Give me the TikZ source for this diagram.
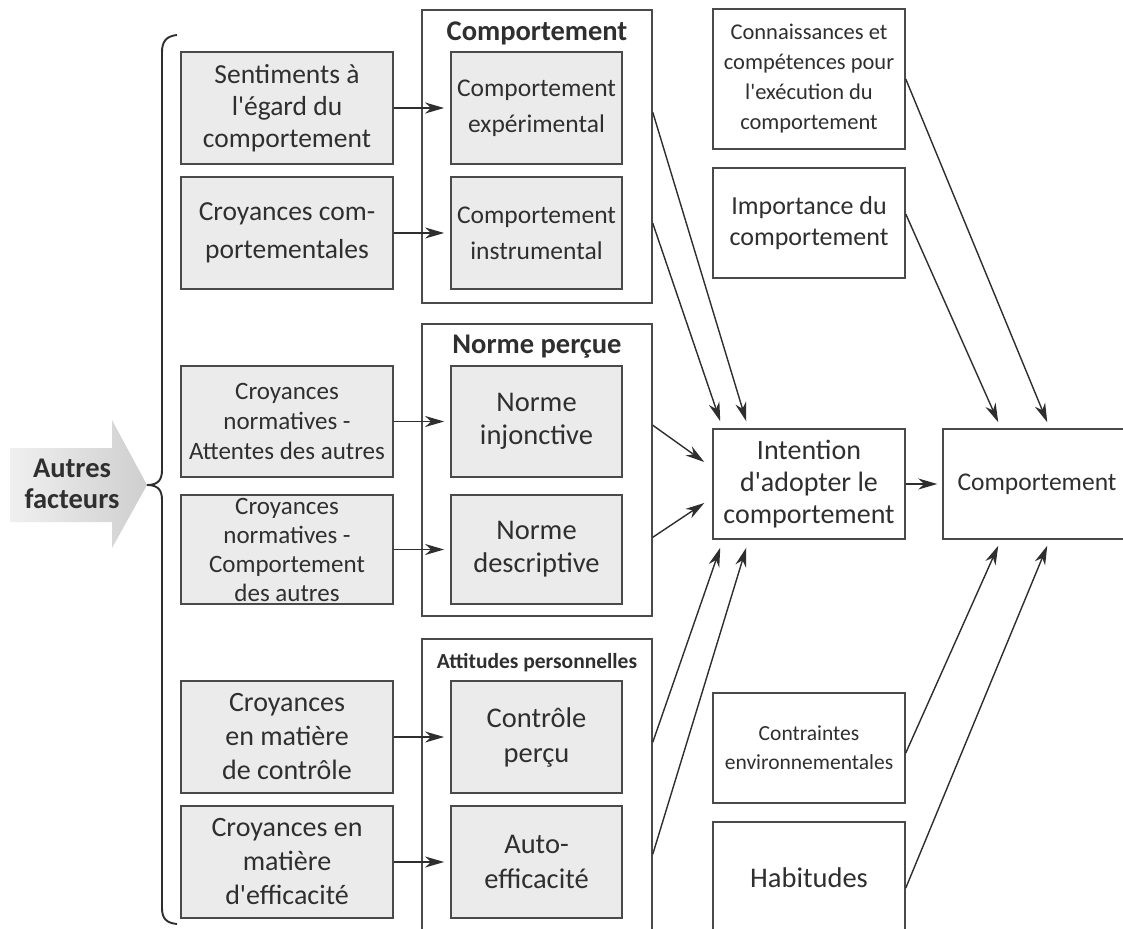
\documentclass[tikz,border=0pt]{standalone}
\usepackage{fontspec}
\setmainfont{Carlito}[Ligatures=TeXOff]
\usetikzlibrary{arrows.meta,calc}
\definecolor{txt}{HTML}{2F2F2F}
\definecolor{boxc}{HTML}{4A4A4A}
\definecolor{fillc}{HTML}{EBEBEB}
\definecolor{linec}{HTML}{2E2E2E}
\newcommand{\fs}[2]{\fontsize{#1}{#2}\selectfont}
\tikzset{
  gbox/.style={draw=boxc, line width=1.8pt, fill=fillc, inner sep=0pt, align=center, text=txt},
  wbox/.style={draw=boxc, line width=1.5pt, fill=white, inner sep=0pt, align=center, text=txt},
  lcol/.style={gbox, minimum width=212pt},
  icol/.style={gbox, minimum width=171pt},
  gcol/.style={wbox, minimum width=230pt},
  rcol/.style={wbox, minimum width=192pt},
  ttl/.style={inner sep=0pt, text=txt, font=\bfseries},
  conn/.style={line width=1.4pt, draw=linec, -{Stealth[length=19pt,width=11pt,inset=6pt]}},
}
\begin{document}
\begin{tikzpicture}[x=1pt,y=-1pt]
\useasboundingbox (0,0) rectangle (1123,928);
\fill[white] (0,0) rectangle (1123,928);

% big arrow "Autres facteurs"
\shade[left color=gray!12, right color=gray!38]
  (10,448) -- (112,448) -- (112,420) -- (147,485) -- (112,548) -- (112,522) -- (10,522) -- cycle;
\node[ttl, align=center, font=\bfseries\fs{28.5}{31}] (autres) at (72,484) {Autres\\facteurs};

% brace
\draw[line width=1.9pt, draw=linec]
  (177,35) .. controls (166,36) and (162,42) .. (162,52)
  -- (162,470) .. controls (162,480) and (158,485) .. (147,485)
  .. controls (158,485) and (162,490) .. (162,500)
  -- (162,908) .. controls (162,918) and (166,923) .. (177,924);

% group boxes
\node[gcol, minimum height=293pt] (G1) at (537,156.5) {};
\node[gcol, minimum height=292pt] (G2) at (537,470) {};
\node[gcol, minimum height=321pt] (G3) at (537,799.5) {};
\node[ttl, font=\bfseries\fs{28.5}{32}] (t1) at (537,33) {Comportement};
\node[ttl, font=\bfseries\fs{28.5}{32}] (t2) at (537,347) {Norme perçue};
\node[ttl, font=\bfseries\fs{21.5}{26}] (t3) at (537,663) {Attitudes personnelles};

% left column
\node[lcol, minimum height=112pt, font=\fs{27.5}{32}] (s1) at (287,108) {Sentiments à\\l'égard du\\comportement};
\node[lcol, minimum height=112pt, font=\fs{27.5}{38}] (s2) at (287,233) {Croyances com-\\portementales};
\node[lcol, minimum height=111pt, font=\fs{25}{30}] (s3) at (287,421.5) {Croyances\\normatives -\\Attentes des autres};
\node[lcol, minimum height=109pt, font=\fs{25}{29}] (s4) at (287,549.5) {Croyances\\normatives -\\Comportement\\des autres};
\node[lcol, minimum height=112pt, font=\fs{28}{34}] (s5) at (287,737) {Croyances\\en matière\\de contrôle};
\node[lcol, minimum height=112pt, font=\fs{28}{34}] (s6) at (287,862) {Croyances en\\matière\\d'efficacité};

% inner column
\node[icol, minimum height=112pt, font=\fs{25.5}{36}] (c1) at (536.5,108) {Comportement\\expérimental};
\node[icol, minimum height=112pt, font=\fs{25.5}{36}] (c2) at (536.5,233) {Comportement\\instrumental};
\node[icol, minimum height=111pt, font=\fs{28.5}{33}] (n1) at (536.5,421.5) {Norme\\injonctive};
\node[icol, minimum height=109pt, font=\fs{28.5}{33}] (n2) at (536.5,549.5) {Norme\\descriptive};
\node[icol, minimum height=112pt, font=\fs{28.5}{35}] (a1) at (536.5,737) {Contrôle\\perçu};
\node[icol, minimum height=112pt, font=\fs{28.5}{35}] (a2) at (536.5,862) {Auto-\\efficacité};

% right column
\node[rcol, minimum height=140pt, font=\fs{22.5}{30}] (k1) at (809,79) {Connaissances et\\compétences pour\\l'exécution du\\comportement};
\node[rcol, minimum height=110pt, font=\fs{26}{31}] (k2) at (809,223) {Importance du\\comportement};
\node[rcol, minimum height=110pt, font=\fs{28}{32}] (I) at (809,484) {Intention\\d'adopter le\\comportement};
\node[rcol, minimum height=110pt, font=\fs{21.5}{29}] (e1) at (809,748) {Contraintes\\environnementales};
\node[rcol, minimum height=112pt, font=\fs{28.5}{32}] (e2) at (809,878) {Habitudes};
\node[wbox, minimum width=188pt, minimum height=110pt, font=\fs{25.5}{30}] (F) at (1037,484) {Comportement};

% horizontal arrows
\foreach \a/\b in {s1/c1, s2/c2, s3/n1, s4/n2, s5/a1, s6/a2}
  \draw[conn, shorten >=6pt] (\a.east) -- (\b.west);
\draw[conn, shorten >=5pt] (I.east) -- (F.west);

% to intention
\draw[conn] ([yshift=-103pt]G1.north east) -- ([xshift=34pt,yshift=7pt]I.north west);
\draw[conn] ([yshift=-214pt]G1.north east) -- ([xshift=8pt,yshift=7pt]I.north west);
\draw[conn] ([yshift=-102pt]G2.north east) -- ([xshift=-8pt,yshift=22pt]I.west);
\draw[conn] ([yshift=-214pt]G2.north east) -- ([xshift=-8pt,yshift=-19pt]I.west);
\draw[conn] ([yshift=-104pt]G3.north east) -- ([xshift=8pt,yshift=-8pt]I.south west);
\draw[conn] ([yshift=-216pt]G3.north east) -- ([xshift=34pt,yshift=-8pt]I.south west);

% to comportement
\draw[conn] (k1.east) -- ([xshift=105pt,yshift=6pt]F.north west);
\draw[conn] ([yshift=9pt]k2.east) -- ([xshift=56pt,yshift=6pt]F.north west);
\draw[conn] ([yshift=-5pt]e1.east) -- ([xshift=56pt,yshift=-6pt]F.south west);
\draw[conn] ([yshift=-10pt]e2.east) -- ([xshift=105pt,yshift=-6pt]F.south west);
\end{tikzpicture}
\end{document}
